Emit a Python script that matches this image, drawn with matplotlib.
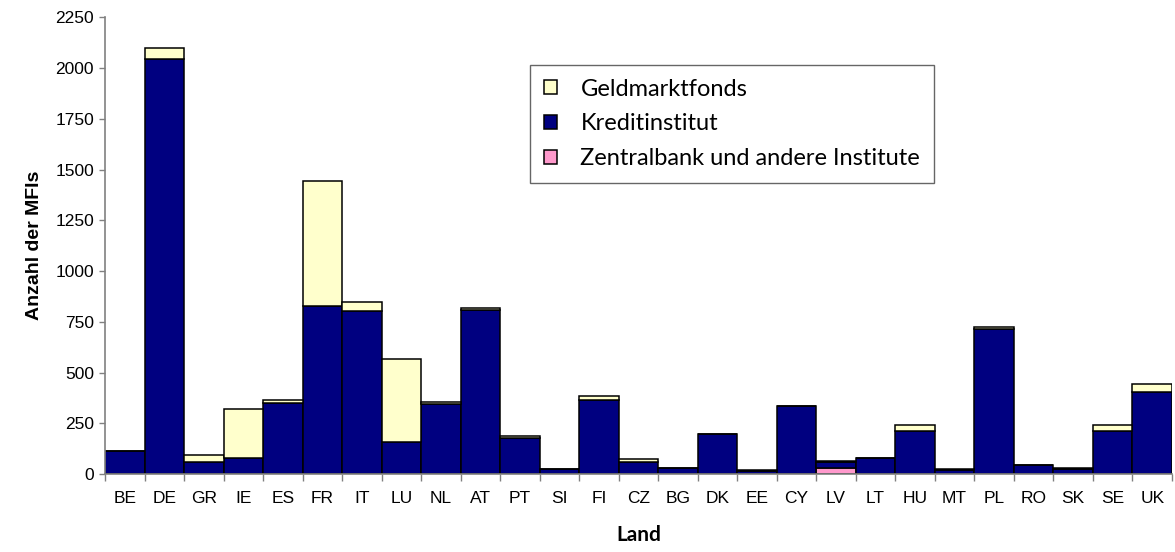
import matplotlib.pyplot as plt
import numpy as np

countries = ['BE', 'DE', 'GR', 'IE', 'ES', 'FR', 'IT', 'LU', 'NL', 'AT', 'PT', 'SI', 'FI', 'CZ',
             'BG', 'DK', 'EE', 'CY', 'LV', 'LT', 'HU', 'MT', 'PL', 'RO', 'SK', 'SE', 'UK']
zentralbank = [1, 1, 1, 1, 1, 1, 1, 1, 1, 1, 1, 1, 1, 1, 1, 1, 1, 1, 32, 1, 1, 1, 1, 1, 1, 1, 1]
kreditinstitut = [110, 2045, 60, 76, 350, 826, 803, 156, 346, 806, 176, 26, 362, 56,
                  28, 194, 15, 335, 26, 77, 209, 17, 716, 41, 25, 209, 404]
geldmarktfonds = [3, 54, 33, 243, 15, 618, 46, 410, 8, 12, 8, 0, 23, 16,
                  0, 0, 6, 0, 4, 0, 33, 5, 10, 0, 6, 33, 40]

yticks = [0, 250, 500, 750, 1000, 1250, 1500, 1750, 2000, 2250]

x = np.arange(len(countries))
zb = np.array(zentralbank)
kr = np.array(kreditinstitut)
gm = np.array(geldmarktfonds)

fig = plt.figure(figsize=(11.75, 5.52), dpi=100)
ax = fig.add_axes([0.0894, 0.1413, 0.908, 0.827])

edge = dict(edgecolor='black', linewidth=1.1, width=1.0)
b3 = ax.bar(x, zb, color='#FF99CC', label='Zentralbank und andere Institute', **edge)
b2 = ax.bar(x, kr, bottom=zb, color='#000080', label='Kreditinstitut', **edge)
b1 = ax.bar(x, gm, bottom=zb + kr, color='#FFFFCC', label='Geldmarktfonds', **edge)

ax.set_xlim(-0.5, len(countries) - 0.5)
ax.set_ylim(0, 2250)
ax.set_yticks(yticks)

# labels at bar centres, tick marks at bar boundaries
ax.set_xticks(x)
ax.set_xticklabels(countries, fontsize=12.5, family='Liberation Sans')
ax.tick_params(axis='x', which='major', length=0, pad=12)
ax.set_xticks(np.arange(len(countries) + 1) - 0.5, minor=True)
ax.tick_params(axis='x', which='minor', length=5, color='#808080', width=1)
ax.tick_params(axis='y', length=4, color='#808080', width=1, labelsize=12.5, pad=4)
for lab in ax.get_yticklabels():
    lab.set_family('Liberation Sans')

for s in ['top', 'right']:
    ax.spines[s].set_visible(False)
for s in ['left', 'bottom']:
    ax.spines[s].set_color('#808080')
    ax.spines[s].set_linewidth(1.2)

ax.set_ylabel('Anzahl der MFIs', fontsize=14, fontweight='bold', family='Liberation Sans', labelpad=9)
ax.set_xlabel('Land', fontsize=15, fontweight='bold', family='Lato', labelpad=14)

leg = ax.legend(handles=[b1, b2, b3], loc='upper left', bbox_to_anchor=(0.398, 0.897),
                fancybox=False, frameon=True, prop={'family': 'Lato', 'size': 17},
                handlelength=0.55, handleheight=0.55, handletextpad=1.0,
                labelspacing=0.58, borderpad=0.6, borderaxespad=0)
leg.get_frame().set_edgecolor('#404040')
leg.get_frame().set_linewidth(1.0)

fig.savefig('out.png', dpi=100)
